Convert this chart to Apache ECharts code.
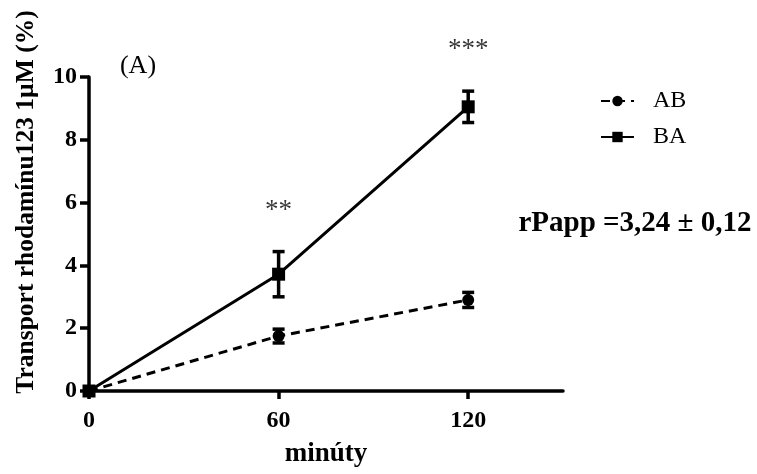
<!DOCTYPE html>
<html>
<head>
<meta charset="utf-8">
<script src="https://cdn.jsdelivr.net/npm/echarts@6/dist/echarts.min.js"></script>
<style>
html, body { margin: 0; padding: 0; background: #fff; }
#main { width: 757px; height: 474px; }
</style>
</head>
<body>
<div id="main"></div>
<script>
// data
var minutes = [0, 60, 120]
var abMean = [0, 1.75, 2.9]
var abErr = [0, 0.22, 0.24]
var baMean = [0, 3.72, 9.05]
var baErr = [0, 0.72, 0.5]
var stars = [{ x: 60, y: 5.75, text: '**' }, { x: 120, y: 10.85, text: '***' }]
var xTicks = [0, 60, 120]

var font = 'Liberation Serif'
var myChart = echarts.init(document.getElementById('main'))

function pairs(xs, ys) {
  return xs.map(function (x, i) { return [x, ys[i]] })
}
function errData(xs, m, e) {
  return xs.map(function (x, i) { return [x, m[i] - e[i], m[i] + e[i]] })
}
// error bars with caps
function renderErr(params, api) {
  var lo = api.coord([api.value(0), api.value(1)])
  var hi = api.coord([api.value(0), api.value(2)])
  var w = 6
  var style = { stroke: '#000', lineWidth: 3.5 }
  return {
    type: 'group',
    children: [
      { type: 'line', shape: { x1: lo[0], y1: lo[1], x2: hi[0], y2: hi[1] }, style: style },
      { type: 'line', shape: { x1: lo[0] - w, y1: lo[1], x2: lo[0] + w, y2: lo[1] }, style: style },
      { type: 'line', shape: { x1: hi[0] - w, y1: hi[1], x2: hi[0] + w, y2: hi[1] }, style: style }
    ]
  }
}

var option = {
  animation: false,
  grid: { left: 89, right: 194, top: 77, bottom: 83 },
  legend: {
    orient: 'vertical',
    left: 595,
    top: 84,
    itemWidth: 33,
    itemHeight: 13,
    itemGap: 12,
    textStyle: { fontFamily: font, fontSize: 24, color: '#000', padding: [0, 0, 0, 14] },
    data: ['AB', 'BA']
  },
  xAxis: {
    type: 'value',
    min: 0,
    max: 150,
    interval: 60,
    name: 'minúty',
    nameLocation: 'middle',
    nameGap: 50,
    nameTextStyle: { fontFamily: font, fontSize: 27, fontWeight: 'bold', color: '#000' },
    splitLine: { show: false },
    axisLine: { lineStyle: { color: '#000', width: 3.5 } },
    axisTick: { length: 8, lineStyle: { width: 3.5 }, customValues: xTicks },
    axisLabel: {
      customValues: xTicks,
      margin: 18,
      fontFamily: font, fontSize: 24, fontWeight: 'bold', color: '#000'
    }
  },
  yAxis: {
    type: 'value',
    min: 0,
    max: 10,
    interval: 2,
    splitLine: { show: false },
    axisLine: { show: true, lineStyle: { color: '#000', width: 3.5 } },
    axisTick: { show: true, length: 9, lineStyle: { width: 3.5 } },
    axisLabel: { margin: 12, fontFamily: font, fontSize: 24, fontWeight: 'bold', color: '#000' }
  },
  graphic: [
    {
      type: 'text', x: 26, y: 202, rotation: Math.PI / 2, originX: 0, originY: 0,
      style: {
        text: 'Transport rhodamínu123 1µM (%)', fontFamily: font, fontSize: 25.5,
        fontWeight: 'bold', fill: '#000', align: 'center', verticalAlign: 'middle'
      }
    },
    {
      type: 'text', x: 138, y: 66,
      style: { text: '(A)', fontFamily: font, fontSize: 26, fill: '#000', align: 'center', verticalAlign: 'middle' }
    },
    {
      type: 'text', x: 635, y: 224,
      style: { text: 'rPapp =3,24 ± 0,12', fontFamily: font, fontSize: 29, fontWeight: 'bold', fill: '#000', align: 'center', verticalAlign: 'middle' }
    }
  ],
  series: [
    {
      name: 'AB',
      type: 'line',
      data: pairs(minutes, abMean),
      symbol: 'circle',
      symbolSize: 12,
      clip: false,
      itemStyle: { color: '#000' },
      lineStyle: { color: '#000', width: 3, type: [9, 6] },
      z: 3
    },
    {
      name: 'BA',
      type: 'line',
      data: pairs(minutes, baMean),
      symbol: 'rect',
      symbolSize: 13,
      clip: false,
      itemStyle: { color: '#000' },
      lineStyle: { color: '#000', width: 3 },
      z: 3
    },
    {
      type: 'custom',
      data: errData(minutes, abMean, abErr),
      renderItem: renderErr,
      clip: false,
      z: 4
    },
    {
      type: 'custom',
      data: errData(minutes, baMean, baErr),
      renderItem: renderErr,
      clip: false,
      z: 4
    },
    {
      type: 'scatter',
      symbolSize: 0,
      silent: true,
      clip: false,
      data: stars.map(function (s) { return { value: [s.x, s.y], name: s.text } }),
      label: {
        show: true, position: 'inside', formatter: '{b}',
        fontFamily: font, fontSize: 27, color: '#000'
      }
    }
  ]
}

myChart.setOption(option)
</script>
</body>
</html>
